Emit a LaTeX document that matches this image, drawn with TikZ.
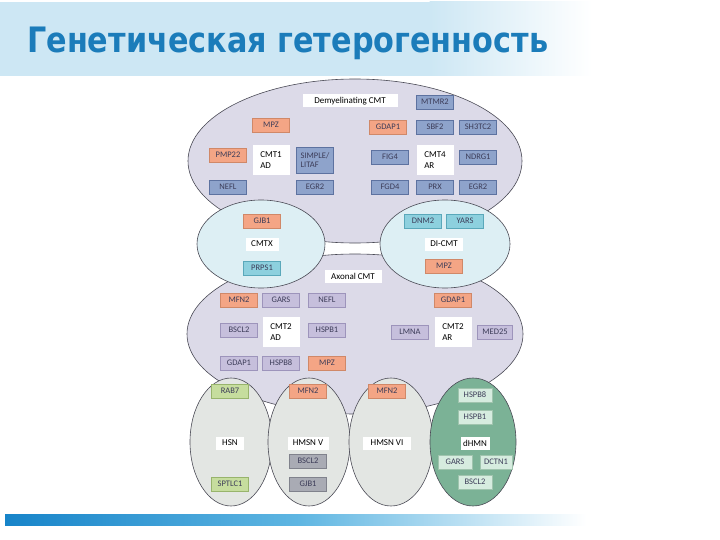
\documentclass[tikz,border=0pt]{standalone}
\usepackage{fontspec}
\usepackage{xcolor}
\usepackage{graphicx}
\usetikzlibrary{positioning}
\newfontfamily\genefont{Carlito}
\newfontfamily\titlefont{DejaVu Sans}
\definecolor{titleblue}{HTML}{1B7CBA}
\definecolor{headband}{HTML}{CDE7F4}
\definecolor{barblue}{HTML}{1784C9}
\definecolor{barmid}{HTML}{5FB6E2}
\definecolor{edge}{HTML}{4A4A55}
\definecolor{bigfill}{HTML}{DCDAE8}
\definecolor{smallfill}{HTML}{DDEFF4}
\definecolor{lowfill}{HTML}{E3E6E3}
\definecolor{dhmnfill}{HTML}{7BB296}
\definecolor{genetext}{HTML}{3C3C58}
\definecolor{salfill}{HTML}{F4A585}
\definecolor{saledge}{HTML}{D08868}
\definecolor{blufill}{HTML}{8EA3CB}
\definecolor{bluedge}{HTML}{5D72A0}
\definecolor{lavfill}{HTML}{C6BFDC}
\definecolor{lavedge}{HTML}{9D94BB}
\definecolor{cyafill}{HTML}{8DD0DE}
\definecolor{cyaedge}{HTML}{5AA8BA}
\definecolor{lgrfill}{HTML}{C6DD9E}
\definecolor{lgredge}{HTML}{98B46C}
\definecolor{gryfill}{HTML}{A9ABB4}
\definecolor{gryedge}{HTML}{80828C}
\definecolor{pgrfill}{HTML}{D6ECDF}
\definecolor{pgredge}{HTML}{A0C4AE}
\tikzset{
  gene/.style={rectangle, line width=0.5pt, minimum width=37pt, minimum height=14pt, inner sep=1pt, align=center, text=genetext, font=\genefont\fontsize{8.5}{9.5}\selectfont},
  sal/.style={gene, fill=salfill, draw=saledge},
  blu/.style={gene, fill=blufill, draw=bluedge},
  lav/.style={gene, fill=lavfill, draw=lavedge},
  cya/.style={gene, fill=cyafill, draw=cyaedge},
  lgr/.style={gene, fill=lgrfill, draw=lgredge},
  gry/.style={gene, fill=gryfill, draw=gryedge},
  pgr/.style={gene, fill=pgrfill, draw=pgredge, minimum width=34pt},
  tag/.style={rectangle, fill=white, inner sep=1.5pt, minimum height=13pt, text=black, font=\genefont\fontsize{9}{11}\selectfont},
  pairtag/.style={tag, align=left, minimum width=37pt, minimum height=30pt},
  group/.style={draw=edge, line width=0.6pt}
}
\begin{document}
\begin{tikzpicture}[x=1pt, y=-1pt]
  \useasboundingbox (0,0) rectangle (720,540);
  \fill[headband] (0,2) rectangle (430,76);
  \shade[left color=headband, right color=white] (429.5,2) rectangle (592,76);
  \node[anchor=base west, inner sep=0, text=titleblue] (title) at (27,53)
    {\resizebox{521pt}{\height}{\titlefont\bfseries\fontsize{35}{40}\selectfont Генетическая гетерогенность}};
  \shade[left color=barblue, right color=barmid] (5,514) rectangle (300,525);
  \shade[left color=barmid, right color=white] (299.5,514) rectangle (586,525);

  \path[group, fill=bigfill] (355,161) ellipse [x radius=167pt, y radius=82pt];
  \path[group, fill=bigfill] (355,334) ellipse [x radius=168pt, y radius=80pt];
  \path[group, fill=smallfill] (261,244) ellipse [x radius=64pt, y radius=44pt];
  \path[group, fill=smallfill] (445,244) ellipse [x radius=65pt, y radius=44pt];
  \path[group, fill=lowfill] (231,442) ellipse [x radius=41pt, y radius=64pt];
  \path[group, fill=lowfill] (309,442) ellipse [x radius=41pt, y radius=64pt];
  \path[group, fill=lowfill] (391,442) ellipse [x radius=42pt, y radius=64pt];
  \path[group, fill=dhmnfill] (473,442) ellipse [x radius=43pt, y radius=64pt];

  \node[tag, minimum width=95pt] (demy) at (350,101) {Demyelinating CMT};
  \node[blu] (mtmr2) at (435,102) {MTMR2};
  \node[sal] (mpz1) at (271,125) {MPZ};
  \node[sal] (gdap1a) at (388,127) {GDAP1};
  \node[blu] (sbf2) at (435,127) {SBF2};
  \node[blu] (sh3tc2) at (478,127) {SH3TC2};
  \node[sal] (pmp22) at (228,155) {PMP22};
  \node[pairtag] (cmt1) at (271,160) {CMT1\\AD};
  \node[blu, minimum height=26pt, align=left] (litaf) at (315,160) {SIMPLE/\\LITAF};
  \node[blu] (fig4) at (390,157) {FIG4};
  \node[pairtag] (cmt4) at (435,160) {CMT4\\AR};
  \node[blu] (ndrg1) at (478,157) {NDRG1};
  \node[blu] (nefl1) at (228,187) {NEFL};
  \node[blu] (egr2a) at (315,187) {EGR2};
  \node[blu] (fgd4) at (390,187) {FGD4};
  \node[blu] (prx) at (435,187) {PRX};
  \node[blu] (egr2b) at (478,187) {EGR2};

  \node[sal] (gjb1a) at (262,221) {GJB1};
  \node[tag, minimum width=33pt] (cmtx) at (262,244) {CMTX};
  \node[cya] (prps1) at (262,268) {PRPS1};
  \node[cya] (dnm2) at (423,221) {DNM2};
  \node[cya] (yars) at (465,221) {YARS};
  \node[tag, minimum width=38pt] (dicmt) at (444,244) {DI-CMT};
  \node[sal] (mpz2) at (444,266) {MPZ};
  \node[tag, minimum width=57pt] (axonal) at (353,276) {Axonal CMT};

  \node[sal] (mfn2a) at (239,300) {MFN2};
  \node[lav] (gars1) at (281,300) {GARS};
  \node[lav] (nefl2) at (327,300) {NEFL};
  \node[sal] (gdap1b) at (453,300) {GDAP1};
  \node[lav] (bscl2a) at (239,330) {BSCL2};
  \node[pairtag] (cmt2ad) at (281,332) {CMT2\\AD};
  \node[lav] (hspb1a) at (327,330) {HSPB1};
  \node[lav] (lmna) at (410,332) {LMNA};
  \node[pairtag] (cmt2ar) at (453,332) {CMT2\\AR};
  \node[lav, minimum width=35pt] (med25) at (495,332) {MED25};
  \node[lav] (gdap1c) at (239,363) {GDAP1};
  \node[lav] (hspb8a) at (281,363) {HSPB8};
  \node[sal] (mpz3) at (327,363) {MPZ};

  \node[lgr] (rab7) at (230,391) {RAB7};
  \node[tag, minimum width=28pt] (hsn) at (230,443) {HSN};
  \node[lgr] (sptlc1) at (230,484) {SPTLC1};
  \node[sal] (mfn2b) at (308,391) {MFN2};
  \node[tag, minimum width=41pt] (hmsn5) at (308,443) {HMSN V};
  \node[gry] (bscl2b) at (308,461) {BSCL2};
  \node[gry] (gjb1b) at (308,484) {GJB1};
  \node[sal] (mfn2c) at (387,391) {MFN2};
  \node[tag, minimum width=48pt] (hmsn6) at (387,443) {HMSN VI};
  \node[pgr] (hspb8b) at (475,395) {HSPB8};
  \node[pgr] (hspb1b) at (475,417) {HSPB1};
  \node[tag, minimum width=29pt] (dhmn) at (475,443) {dHMN};
  \node[pgr] (gars2) at (455,462) {GARS};
  \node[pgr, minimum width=32pt] (dctn1) at (496,462) {DCTN1};
  \node[pgr] (bscl2c) at (475,482) {BSCL2};
\end{tikzpicture}
\end{document}
